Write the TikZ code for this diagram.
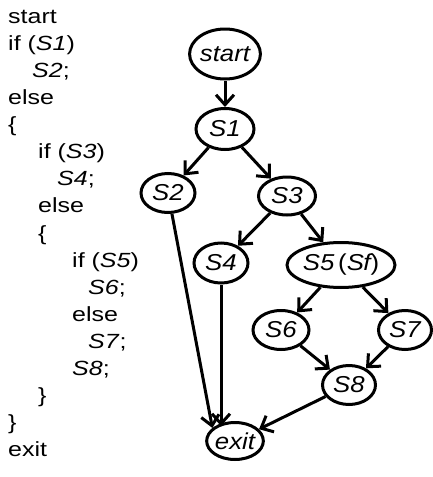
\documentclass[tikz,border=0pt]{standalone}
\usepackage{fontspec}
\setmainfont[FakeStretch=1.22]{Liberation Sans}
\newfontfamily\nodefont[FakeStretch=1.12]{Liberation Sans}
\usetikzlibrary{shapes.geometric,arrows.meta,calc}
\begin{document}
\begin{tikzpicture}[x=1pt,y=-1pt,
  every node/.style={font=\fontsize{20.5}{24}\selectfont},
  codeline/.style={anchor=base west, inner sep=0pt},
  st/.style={ellipse, draw, line width=3pt, inner sep=0pt, minimum width=56pt, minimum height=39pt, font=\nodefont\fontsize{23}{26}\selectfont\itshape},
  edge/.style={line width=3pt, -{Straight Barb[length=10pt,width=18pt,line width=3pt]}}]
\useasboundingbox (0,0) rectangle (433,477);
% code listing
\node[codeline] (l1)  at (8,23)  {start};
\node[codeline] (l2)  at (8,50)  {if (\textit{S1})};
\node[codeline] (l3)  at (32,77) {\textit{S2};};
\node[codeline] (l4)  at (8,104) {else};
\node[codeline] (l5)  at (8,131) {\{};
\node[codeline] (l6)  at (38,158) {if (\textit{S3})};
\node[codeline] (l7)  at (57,185) {\textit{S4};};
\node[codeline] (l8)  at (38,212) {else};
\node[codeline] (l9)  at (38,240) {\{};
\node[codeline] (l10) at (72,267) {if (\textit{S5})};
\node[codeline] (l11) at (88,294) {\textit{S6};};
\node[codeline] (l12) at (72,321) {else};
\node[codeline] (l13) at (88,348) {\textit{S7};};
\node[codeline] (l14) at (72,375) {\textit{S8};};
\node[codeline] (l15) at (38,402) {\}};
\node[codeline] (l16) at (8,429) {\}};
\node[codeline] (l17) at (8,456) {exit};
% graph
\node[st, minimum width=68pt, minimum height=50pt] (start) at (225,54) {start};
\node[st, minimum width=58pt, minimum height=41pt] (s1) at (225,129) {S1};
\node[st, minimum width=54pt] (s2) at (168,193) {S2};
\node[st, minimum width=57pt, minimum height=38pt] (s3) at (287,196) {S3};
\node[st, minimum width=54pt, minimum height=40pt] (s4) at (221,263) {S4};
\node[st, minimum width=92pt, minimum height=45pt] (s5) at (341,265) {S5\,{\upshape(}S\kern-0.5pt f{\upshape)}};
\node[st, minimum width=56pt] (s6) at (281,330) {S6};
\node[st, minimum width=53pt] (s7) at (405,330) {S7};
\node[st, minimum width=53pt] (s8) at (349,385) {S8};
\node[st, minimum width=54pt, minimum height=37pt] (exit) at (235,441) {exit};
\coordinate (exitnw) at (exit.150);
\coordinate (exitn) at ($(s4.center |- exit.center)+(0,-15)$);
\draw[edge] (start) -- (s1);
\draw[edge] (s1) -- (s2);
\draw[edge] (s1) -- (s3);
\draw[edge] (s2) -- (exitnw);
\draw[edge] (s3) -- (s4);
\draw[edge] (s3) -- (s5);
\draw[edge] (s4) -- (exitn);
\draw[edge] (s5) -- (s6);
\draw[edge] (s5) -- (s7);
\draw[edge] (s6) -- (s8);
\draw[edge] (s7) -- (s8);
\draw[edge] (s8) -- (exit);
\end{tikzpicture}
\end{document}
